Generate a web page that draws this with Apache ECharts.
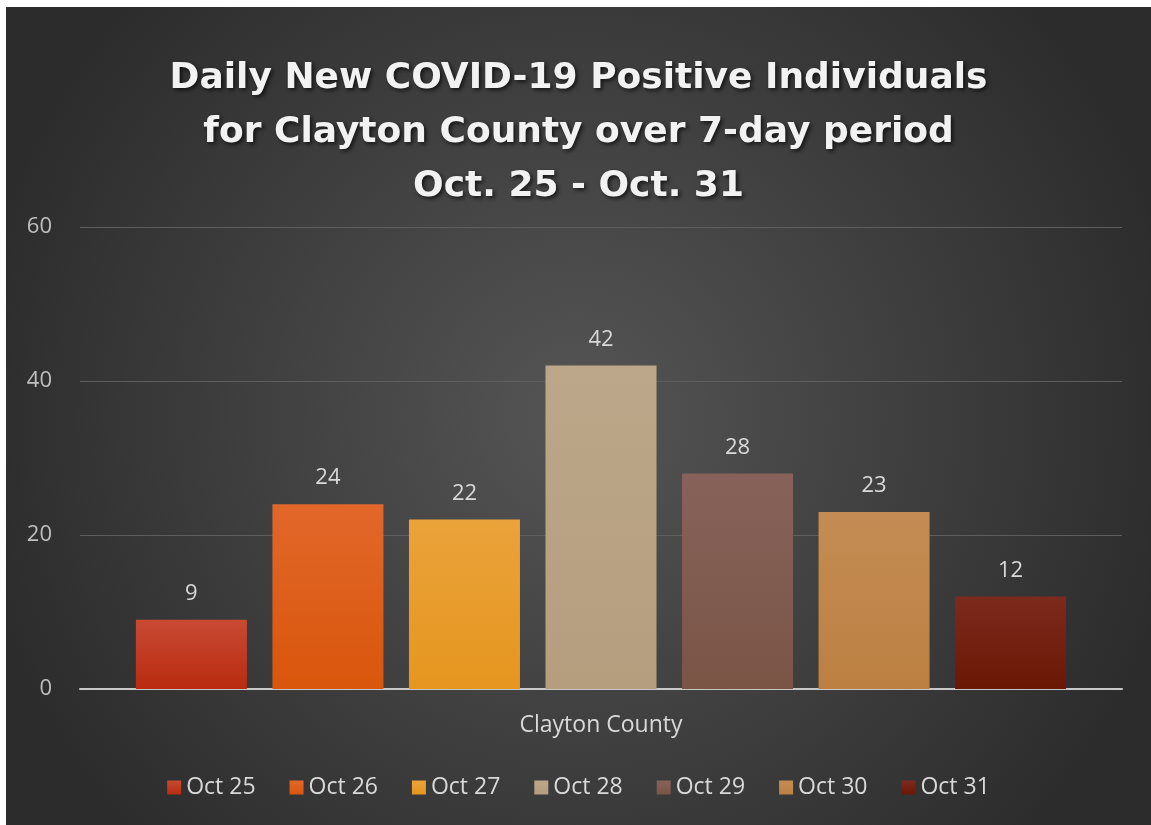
<!DOCTYPE html>
<html>
<head>
<meta charset="utf-8">
<title>Daily New COVID-19 Positive Individuals - Clayton County</title>
<script src="https://cdn.jsdelivr.net/npm/echarts@6/dist/echarts.min.js"></script>
<style>
  html, body { margin: 0; padding: 0; background: #ffffff; overflow: hidden; width: 100%; height: 100%; }
  #main { position: absolute; left: 6px; top: 7px; right: 0; bottom: 0; }
</style>
</head>
<body>
<div id="main"></div>
<script>
// data
var categories = ['Clayton County']
var days = ['Oct 25', 'Oct 26', 'Oct 27', 'Oct 28', 'Oct 29', 'Oct 30', 'Oct 31']
var cases = [9, 24, 22, 42, 28, 23, 12]
var yTicks = [0, 20, 40, 60]

// colours (top, bottom) for each bar
var palette = [
  ['#c94a33', '#b82b10'],
  ['#e2672a', '#d9560c'],
  ['#eaa23a', '#e6961f'],
  ['#bca78a', '#b59e7e'],
  ['#86625a', '#7a5546'],
  ['#c48c54', '#bc8042'],
  ['#7d2a1e', '#6a1804']
]

var chart = echarts.init(document.getElementById('main'))

var series = days.map(function (d, i) {
  return {
    name: d,
    type: 'bar',
    data: [cases[i]],
    barWidth: 111,
    barGap: '23%',
    itemStyle: {
      color: new echarts.graphic.LinearGradient(0, 0, 0, 1, [
        { offset: 0, color: palette[i][0] },
        { offset: 1, color: palette[i][1] }
      ])
    },
    label: {
      show: true,
      position: 'top',
      distance: 15,
      color: '#d9d9d9',
      fontSize: 22,
      fontFamily: 'Open Sans'
    }
  }
})

chart.setOption({
  backgroundColor: new echarts.graphic.RadialGradient(0.5, 0.5, 0.75, [
    { offset: 0, color: '#555555' },
    { offset: 1, color: '#2c2c2c' }
  ]),
  color: palette.map(function (p) { return p[1] }),
  title: {
    text: 'Daily New COVID-19 Positive Individuals\nfor Clayton County over 7-day period\nOct. 25 - Oct. 31',
    left: 'center',
    top: 40,
    textStyle: {
      color: '#f2f2f2',
      fontFamily: 'DejaVu Sans',
      fontWeight: 'bold',
      fontSize: 36,
      lineHeight: 54,
      textShadowColor: 'rgba(0,0,0,0.7)',
      textShadowBlur: 4,
      textShadowOffsetX: 2,
      textShadowOffsetY: 2
    }
  },
  legend: {
    data: days,
    top: 764,
    left: 'center',
    itemWidth: 14,
    itemHeight: 14,
    itemGap: 34,
    icon: 'rect',
    textStyle: { color: '#d9d9d9', fontSize: 23, fontFamily: 'Open Sans' }
  },
  grid: { left: 74, right: 29, top: 220, bottom: 136 },
  xAxis: {
    type: 'category',
    data: categories,
    axisLine: { lineStyle: { color: '#c8c8c8', width: 2 } },
    axisTick: { show: false },
    axisLabel: { color: '#d9d9d9', fontSize: 23, fontFamily: 'Open Sans', margin: 25 }
  },
  yAxis: {
    type: 'value',
    min: yTicks[0],
    max: yTicks[yTicks.length - 1],
    interval: yTicks[1] - yTicks[0],
    axisLine: { show: false },
    axisTick: { show: false },
    axisLabel: { color: '#bfbfbf', fontSize: 22, fontFamily: 'Open Sans', margin: 28 },
    splitLine: { lineStyle: { color: '#5e5e5e', width: 1 } }
  },
  series: series
})
</script>
</body>
</html>
